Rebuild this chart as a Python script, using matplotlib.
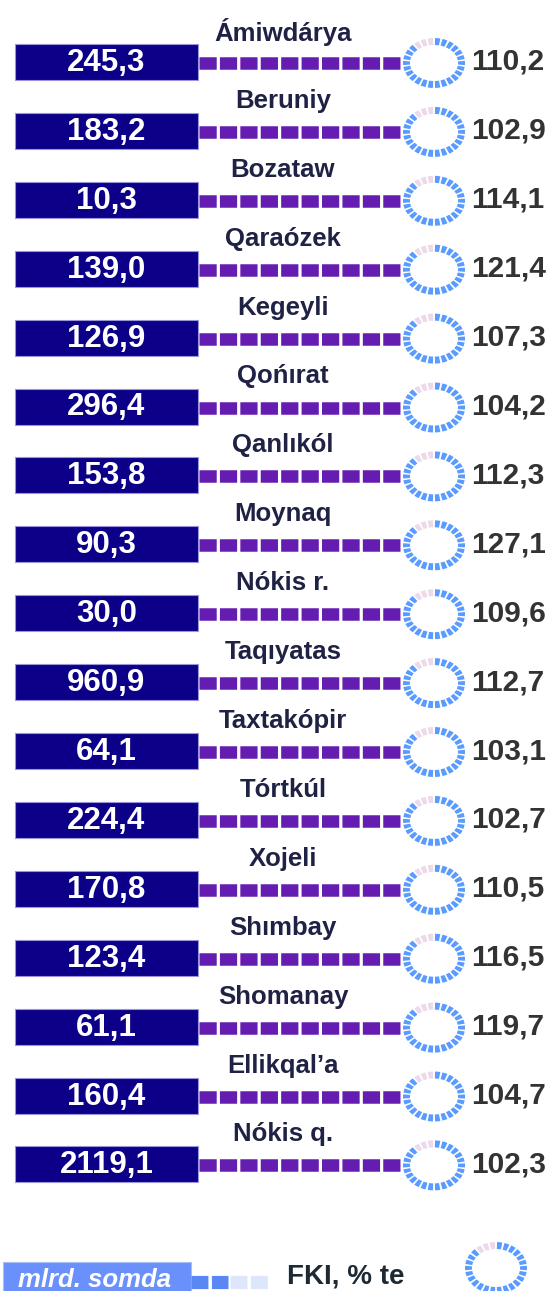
import numpy as np
import matplotlib
matplotlib.use("Agg")
from matplotlib import pyplot as plt
from matplotlib.patches import Rectangle, Polygon

# data
districts = ["Ámiwdárya", "Beruniy", "Bozataw", "Qaraózek", "Kegeyli", "Qońırat",
             "Qanlıkól", "Moynaq", "Nókis r.", "Taqıyatas", "Taxtakópir", "Tórtkúl",
             "Xojeli", "Shımbay", "Shomanay", "Ellikqal’a", "Nókis q."]
investment = ["245,3", "183,2", "10,3", "139,0", "126,9", "296,4", "153,8", "90,3",
              "30,0", "960,9", "64,1", "224,4", "170,8", "123,4", "61,1", "160,4", "2119,1"]
fki_pct = ["110,2", "102,9", "114,1", "121,4", "107,3", "104,2", "112,3", "127,1",
           "109,6", "112,7", "103,1", "102,7", "110,5", "116,5", "119,7", "104,7", "102,3"]
legend_bar = "mlrd. somda"
legend_pct = "FKI, % te"

BAR = "#0c0089"
DASH = "#651db1"
RING = "#5a9bff"
PINK = "#ecd9ea"
NAME = "#1f2244"
PCT = "#333333"

W, H = 551, 1291
fig = plt.figure(figsize=(W / 100, H / 100), dpi=100)
ax = fig.add_axes([0, 0, 1, 1])
ax.set_xlim(0, W)
ax.set_ylim(H, 0)
ax.axis("off")

bold = dict(family=["Liberation Sans", "DejaVu Sans"], weight="bold")


def ring(cx, cy, a=31, b=25, th=7, n=26, n_pink=3):
    # segmented elliptical ring, pink segments counterclockwise from 12 o'clock
    step = 2 * np.pi / n
    gap = 0.07
    for k in range(n):
        t0 = np.pi / 2 + k * step + gap / 2
        t1 = np.pi / 2 + (k + 1) * step - gap / 2
        t = np.linspace(t0, t1, 8)
        outer = np.c_[cx + a * np.cos(t), cy - b * np.sin(t)]
        inner = np.c_[cx + (a - th) * np.cos(t[::-1]), cy - (b - th) * np.sin(t[::-1])]
        col = PINK if k < n_pink else RING
        ax.add_patch(Polygon(np.vstack([outer, inner]), closed=True, fc=col, ec="none"))


spacing = 68.9
lw = 9.0
for i, name in enumerate(districts):
    y = 62 + i * spacing
    bx0, bx1 = 15, 198
    ax.add_patch(Rectangle((bx0, y - 18), bx1 - bx0, 36, fc=BAR, ec="#9a94d8", lw=0.8))
    ax.text((bx0 + bx1) / 2, y + 1, investment[i], color="white", fontsize=22.5,
            ha="center", va="center", **bold)
    ax.text(283, y - 30, name, color=NAME, fontsize=18.5, ha="center", va="center", **bold)
    ax.plot([bx1 + 1, 401], [y + 1, y + 1], color=DASH, lw=lw,
            dash_capstyle="butt", dashes=[12.4 / lw, 2.3 / lw])
    ring(434, y + 1)
    ax.text(471, y, fki_pct[i], color=PCT, fontsize=21.5, ha="left", va="center", **bold)

# legend
ly = 1278
ax.add_patch(Rectangle((3, ly - 16), 188, 40, fc="#6a90fb", ec="#a9bdf5", lw=0.8))
ax.text(18, ly + 2, legend_bar, color="white", fontsize=18.5, style="italic",
        ha="left", va="center", **bold)
ax.plot([191, 228], [ly + 4, ly + 4], color="#5b87f5", lw=9.5, dash_capstyle="butt",
        dashes=[12.2 / 9.5, 2.5 / 9.5])
ax.plot([230, 270], [ly + 4, ly + 4], color="#dde6fb", lw=9.5, dash_capstyle="butt",
        dashes=[12.2 / 9.5, 2.5 / 9.5])
ax.text(287, ly - 2, legend_pct, color="#1e2a33", fontsize=20, ha="left", va="center", **bold)
ring(496, 1268, a=31, b=26)

fig.savefig("out.png", dpi=100)
